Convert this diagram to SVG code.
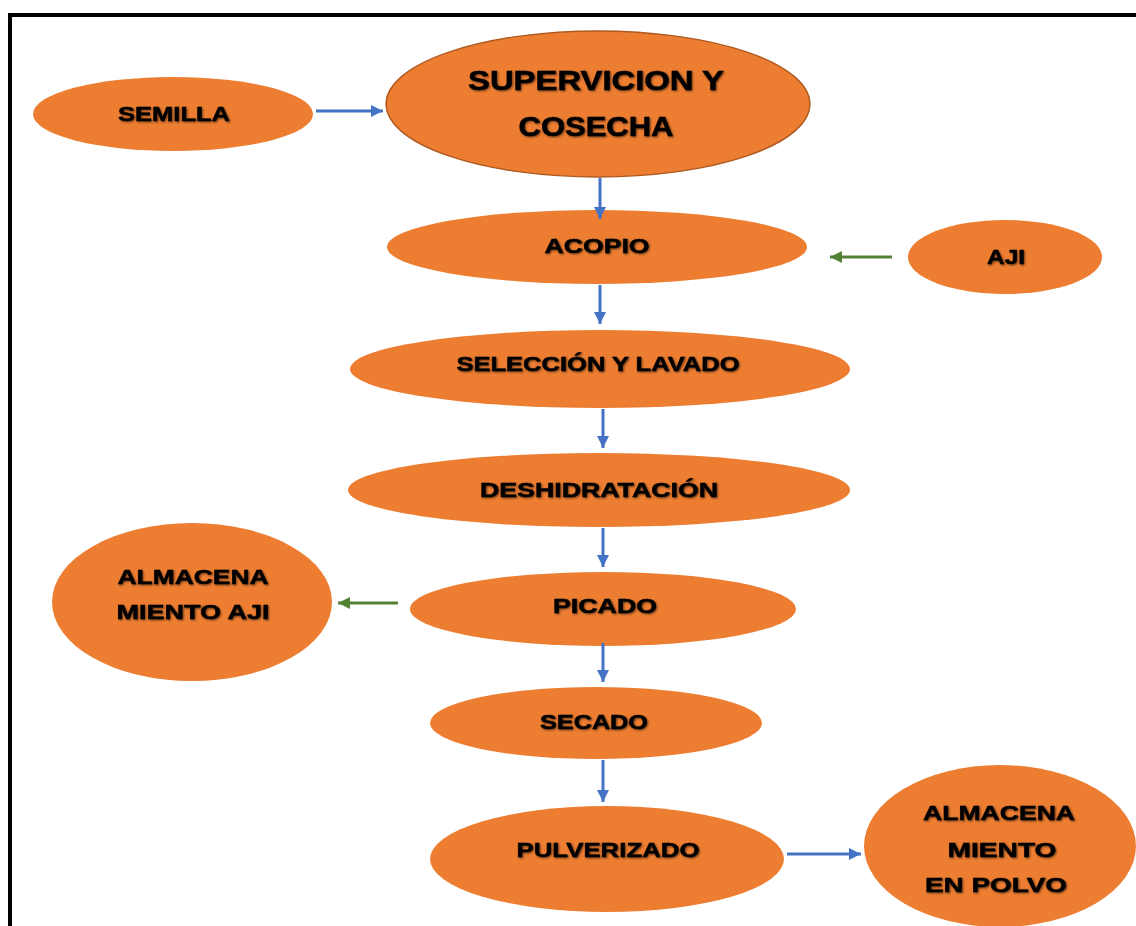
<svg xmlns="http://www.w3.org/2000/svg" width="1136" height="926" viewBox="0 0 1136 926">
<style>
.n{fill:#ED7D31;}
.t{font-family:"Liberation Sans",Arial,sans-serif;font-weight:bold;font-size:21px;fill:#000;stroke:#000;stroke-width:0.5;text-anchor:middle;filter:url(#sh);}
.big{font-size:28px;}
.b{stroke:#4472C4;stroke-width:3;fill:none;marker-end:url(#ab);}
.g{stroke:#548235;stroke-width:3;fill:none;marker-end:url(#ag);}
</style>
<defs>
<filter id="sh" x="-10%" y="-30%" width="120%" height="160%">
<feGaussianBlur in="SourceAlpha" stdDeviation="1.2" result="b"/>
<feOffset in="b" dx="1" dy="1" result="o"/>
<feComponentTransfer in="o" result="o2"><feFuncA type="linear" slope="0.6"/></feComponentTransfer>
<feMerge><feMergeNode in="o2"/><feMergeNode in="SourceGraphic"/></feMerge>
</filter>
<marker id="ab" markerUnits="userSpaceOnUse" markerWidth="14" markerHeight="14" refX="12" refY="6" orient="auto"><path d="M0,0 L12,6 L0,12 z" fill="#4472C4"/></marker>
<marker id="ag" markerUnits="userSpaceOnUse" markerWidth="14" markerHeight="14" refX="12" refY="6" orient="auto"><path d="M0,0 L12,6 L0,12 z" fill="#548235"/></marker>
</defs>
<rect width="1136" height="926" fill="#fff"/>
<path d="M10,926 V15 H1136" fill="none" stroke="#000" stroke-width="4"/>

<g id="semilla"><ellipse class="n" cx="173" cy="114" rx="140" ry="37"/><text class="t" x="174" y="121" textLength="112" lengthAdjust="spacingAndGlyphs">SEMILLA</text></g>
<g id="supervicion"><ellipse class="n" cx="598" cy="104" rx="212" ry="73" stroke="#AE5A21" stroke-width="1.5"/><text class="t big" x="596" y="90" textLength="256" lengthAdjust="spacingAndGlyphs">SUPERVICION Y</text><text class="t big" x="596" y="136" textLength="155" lengthAdjust="spacingAndGlyphs">COSECHA</text></g>
<g id="acopio"><ellipse class="n" cx="597" cy="247" rx="210" ry="37"/><text class="t" x="597" y="253" textLength="105" lengthAdjust="spacingAndGlyphs">ACOPIO</text></g>
<g id="aji"><ellipse class="n" cx="1005" cy="257" rx="97" ry="37"/><text class="t" x="1006" y="264" textLength="38" lengthAdjust="spacingAndGlyphs">AJI</text></g>
<g id="seleccion"><ellipse class="n" cx="600" cy="369" rx="250" ry="39"/><text class="t" x="598" y="371" textLength="283" lengthAdjust="spacingAndGlyphs">SELECCIÓN Y LAVADO</text></g>
<g id="deshidratacion"><ellipse class="n" cx="599" cy="490" rx="251" ry="37"/><text class="t" x="599" y="497" textLength="238" lengthAdjust="spacingAndGlyphs">DESHIDRATACIÓN</text></g>
<g id="picado"><ellipse class="n" cx="603" cy="609" rx="193" ry="37"/><text class="t" x="605" y="613" textLength="104" lengthAdjust="spacingAndGlyphs">PICADO</text></g>
<g id="almacen-aji"><ellipse class="n" cx="192" cy="602" rx="140" ry="79"/><text class="t" x="193" y="584" textLength="151" lengthAdjust="spacingAndGlyphs">ALMACENA</text><text class="t" x="193" y="619" textLength="153" lengthAdjust="spacingAndGlyphs">MIENTO AJI</text></g>
<g id="secado"><ellipse class="n" cx="596" cy="723" rx="166" ry="36"/><text class="t" x="594" y="729" textLength="108" lengthAdjust="spacingAndGlyphs">SECADO</text></g>
<g id="pulverizado"><ellipse class="n" cx="607" cy="859" rx="177" ry="53"/><text class="t" x="608" y="857" textLength="183" lengthAdjust="spacingAndGlyphs">PULVERIZADO</text></g>
<g id="almacen-polvo"><ellipse class="n" cx="1000" cy="846" rx="136" ry="81"/><text class="t" x="999" y="820" textLength="152" lengthAdjust="spacingAndGlyphs">ALMACENA</text><text class="t" x="1002" y="857" textLength="109" lengthAdjust="spacingAndGlyphs">MIENTO</text><text class="t" x="996" y="892" textLength="142" lengthAdjust="spacingAndGlyphs">EN POLVO</text></g>

<g id="connectors">
<line class="b" x1="316" y1="111" x2="383" y2="111"/>
<line class="b" x1="600" y1="178" x2="600" y2="219"/>
<line class="b" x1="600" y1="285" x2="600" y2="324"/>
<line class="b" x1="603" y1="409" x2="603" y2="448"/>
<line class="b" x1="603" y1="528" x2="603" y2="567"/>
<line class="b" x1="603" y1="643" x2="603" y2="682"/>
<line class="b" x1="603" y1="760" x2="603" y2="802"/>
<line class="b" x1="787" y1="854" x2="861" y2="854"/>
<line class="g" x1="892" y1="257" x2="830" y2="257"/>
<line class="g" x1="398" y1="603" x2="338" y2="603"/>
</g>
</svg>
